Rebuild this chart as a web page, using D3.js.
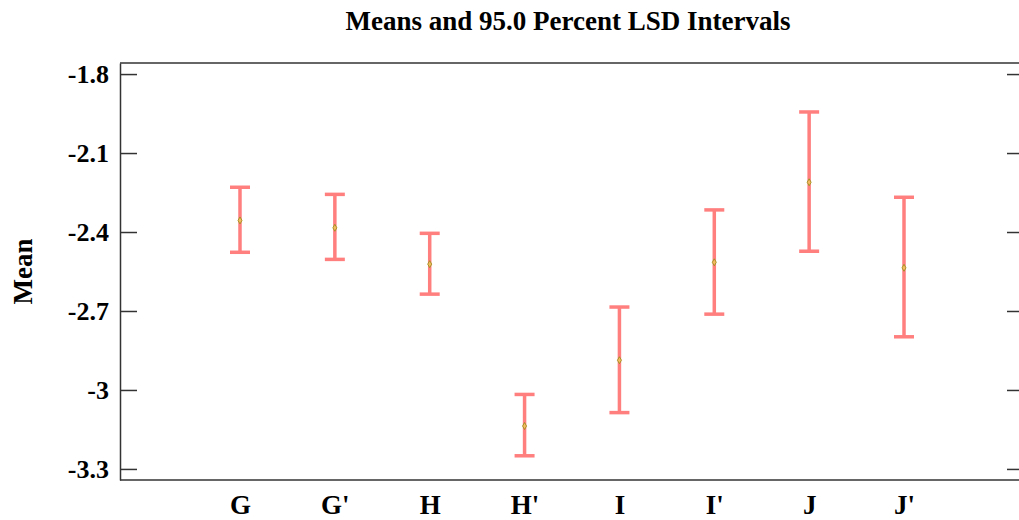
<!DOCTYPE html>
<html>
<head>
<meta charset="utf-8">
<script src="https://cdn.jsdelivr.net/npm/d3@7"></script>
<style>
  html, body { margin: 0; padding: 0; background: #fff; }
  svg { display: block; }
  text { font-family: "Liberation Serif", "Times New Roman", serif; font-weight: bold; fill: #000; }
</style>
</head>
<body>
<svg id="chart" width="1019" height="520"></svg>
<script>
const categories = ["G", "G'", "H", "H'", "I", "I'", "J", "J'"];
const means = [-2.356, -2.384, -2.522, -3.137, -2.887, -2.515, -2.211, -2.536];
const upper = [-2.230, -2.257, -2.405, -3.017, -2.685, -2.316, -1.944, -2.268];
const lower = [-2.477, -2.504, -2.636, -3.250, -3.086, -2.712, -2.473, -2.798];
const yTicks = [-1.8, -2.1, -2.4, -2.7, -3, -3.3];
const yTickLabels = ["-1.8", "-2.1", "-2.4", "-2.7", "-3", "-3.3"];
const title = "Means and 95.0 Percent LSD Intervals";
const yLabel = "Mean";

const svg = d3.select("#chart");
const L = 120, R = 1024, T = 63, B = 480;

const x = d3.scalePoint().domain(categories).range([L, R]).padding(1.265);
const y = d3.scaleLinear().domain([-3.342, -1.758]).range([B, T]);

const axisColor = "#333";

// frame
svg.append("line").attr("x1", L).attr("x2", R).attr("y1", T).attr("y2", T)
  .attr("stroke", axisColor).attr("stroke-width", 1.5);
svg.append("line").attr("x1", L).attr("x2", R).attr("y1", B).attr("y2", B)
  .attr("stroke", axisColor).attr("stroke-width", 1.5);

// left axis
const leftAxis = d3.axisLeft(y).tickValues(yTicks)
  .tickFormat((d, i) => yTickLabels[i]).tickSizeInner(-17).tickSizeOuter(0).tickPadding(11);
const gL = svg.append("g").attr("transform", `translate(${L},0)`).call(leftAxis);
gL.select(".domain").attr("stroke", axisColor).attr("stroke-width", 1.5);
gL.selectAll(".tick line").attr("stroke", axisColor).attr("stroke-width", 1.5);
gL.selectAll(".tick text").attr("font-size", 26).attr("dy", "0.33em")
  .style("font-family", "'Liberation Serif', serif").style("font-weight", "bold").attr("fill", "#000");

// right ticks
const rightAxis = d3.axisRight(y).tickValues(yTicks).tickFormat("").tickSizeInner(-17).tickSizeOuter(0);
const gR = svg.append("g").attr("transform", `translate(${R},0)`).call(rightAxis);
gR.select(".domain").attr("stroke", axisColor).attr("stroke-width", 1.5);
gR.selectAll(".tick line").attr("stroke", axisColor).attr("stroke-width", 1.5);

// bottom labels
const bottomAxis = d3.axisBottom(x).tickSize(0).tickPadding(15);
const gB = svg.append("g").attr("transform", `translate(0,${B})`).call(bottomAxis);
gB.select(".domain").remove();
gB.selectAll(".tick text").attr("font-size", 27)
  .style("font-family", "'Liberation Serif', serif").style("font-weight", "bold").attr("fill", "#000");

// title
svg.append("text").attr("x", 568).attr("y", 30).attr("text-anchor", "middle")
  .attr("font-size", 27).text(title);

// y label
svg.append("text").attr("transform", `translate(32,${(T + B) / 2}) rotate(-90)`)
  .attr("text-anchor", "middle").attr("font-size", 27).text(yLabel);

// error bars
const data = categories.map((c, i) => ({ c, m: means[i], lo: lower[i], hi: upper[i] }));
const barColor = "#ff7f7f";
const capW = 10;
const g = svg.append("g");
g.selectAll(".stem").data(data).join("line")
  .attr("x1", d => x(d.c)).attr("x2", d => x(d.c))
  .attr("y1", d => y(d.hi)).attr("y2", d => y(d.lo))
  .attr("stroke", barColor).attr("stroke-width", 3.5);
g.selectAll(".capT").data(data).join("line")
  .attr("x1", d => x(d.c) - capW).attr("x2", d => x(d.c) + capW)
  .attr("y1", d => y(d.hi)).attr("y2", d => y(d.hi))
  .attr("stroke", barColor).attr("stroke-width", 3.5);
g.selectAll(".capB").data(data).join("line")
  .attr("x1", d => x(d.c) - capW).attr("x2", d => x(d.c) + capW)
  .attr("y1", d => y(d.lo)).attr("y2", d => y(d.lo))
  .attr("stroke", barColor).attr("stroke-width", 3.5);
g.selectAll(".mk").data(data).join("path")
  .attr("d", d3.symbol().type(d3.symbolDiamond).size(14))
  .attr("transform", d => `translate(${x(d.c)},${y(d.m)})`)
  .attr("fill", "#f6b860").attr("stroke", "#8f8f10").attr("stroke-width", 0.8);
</script>
</body>
</html>
